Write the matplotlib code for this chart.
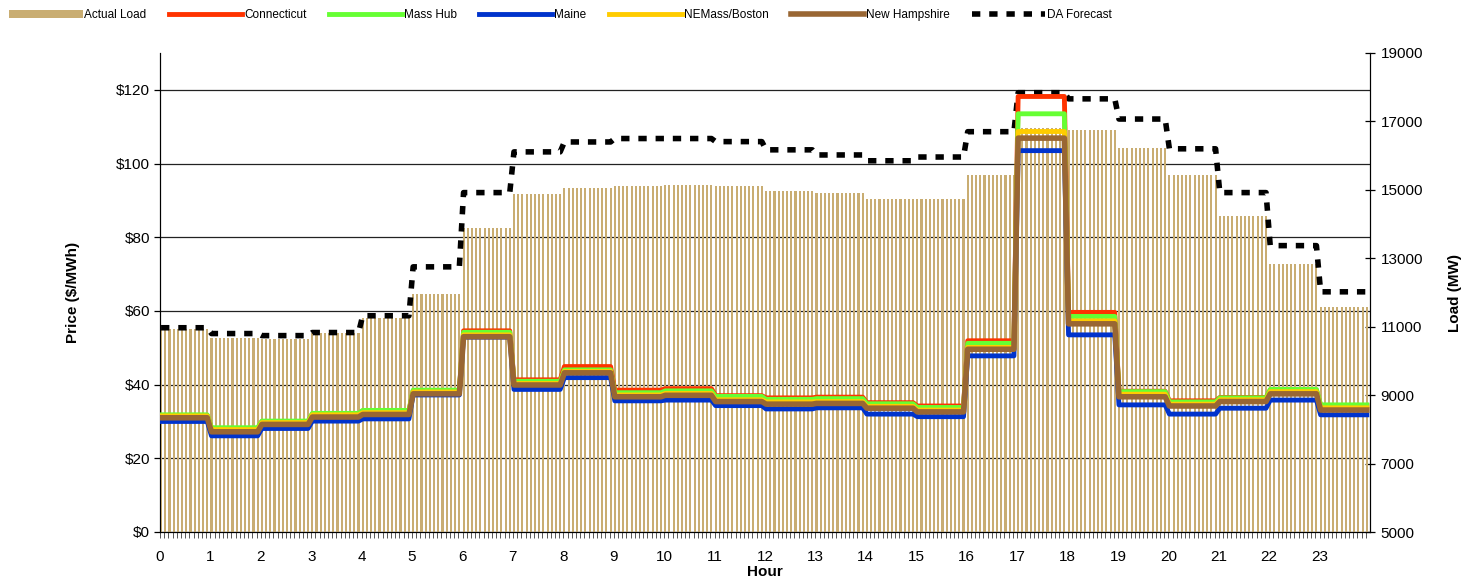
import matplotlib
matplotlib.use('Agg')
import matplotlib.pyplot as plt
import numpy as np

plt.rcParams['font.family'] = ['Liberation Sans', 'DejaVu Sans']

# hourly values (5-minute intervals repeat the hour)
hours = np.arange(24)
actual_load = [10930, 10660, 10640, 10810, 11250, 11960, 13880, 14880, 15050, 15110, 15140, 15110,
               14970, 14900, 14720, 14720, 15440, 16820, 16740, 16220, 15440, 14240, 12830, 11570]
da_forecast = [10970, 10800, 10740, 10830, 11320, 12750, 14920, 16110, 16400, 16500, 16500, 16410,
               16170, 16020, 15850, 15960, 16700, 17840, 17660, 17070, 16200, 14920, 13370, 12020]
connecticut = [31.6, 28.1, 30.0, 32.0, 32.9, 38.3, 54.6, 41.3, 44.9, 38.5, 38.9, 37.0,
               36.4, 36.6, 35.1, 34.2, 51.9, 118.2, 59.6, 38.2, 35.6, 36.5, 38.5, 34.3]
mass_hub = [31.8, 28.3, 30.1, 32.2, 33.0, 38.5, 54.2, 40.9, 44.0, 37.8, 38.3, 36.8,
            36.0, 36.2, 34.8, 33.8, 51.2, 113.5, 58.5, 38.1, 35.3, 36.4, 38.7, 34.5]
maine = [30.0, 26.1, 28.1, 30.1, 30.7, 37.2, 52.9, 38.7, 41.9, 35.6, 35.8, 34.3,
         33.4, 33.7, 32.0, 31.3, 47.8, 103.5, 53.5, 34.5, 32.0, 33.6, 35.8, 31.8]
nemass_boston = [31.5, 27.8, 29.7, 31.8, 32.4, 38.0, 53.5, 40.3, 43.6, 37.2, 37.6, 35.9,
                 35.3, 35.4, 34.1, 33.1, 50.1, 108.7, 57.3, 37.4, 34.7, 35.9, 38.1, 33.7]
new_hampshire = [31.0, 27.2, 29.2, 31.2, 31.9, 37.5, 53.0, 39.9, 43.2, 36.7, 37.1, 35.4,
                 34.7, 34.9, 33.6, 32.6, 49.6, 106.9, 56.5, 36.7, 34.2, 35.4, 37.5, 33.1]

steps = 12
x5 = np.arange(24 * steps) / steps
xc = x5 + 0.25 / steps

def per5(vals):
    return np.repeat(vals, steps)

fig = plt.figure(figsize=(14.73, 5.79), dpi=100)
ax = fig.add_axes([160 / 1473, 47 / 579, 1210 / 1473, 479 / 579])
ax2 = ax.twinx()
ax3 = ax.twinx()

# price axis with grid (bottom layer)
ax.set_ylim(0, 130)
ax.set_xlim(0, 24)
ax.set_yticks(np.arange(0, 121, 20))
ax.set_yticklabels(['${}'.format(v) for v in range(0, 121, 20)])
ax.yaxis.grid(True, color='#222222', linewidth=0.9)
ax.set_axisbelow(True)
ax.set_xticks(hours)
ax.set_xticks(x5, minor=True)
ax.tick_params(axis='x', which='both', length=4, width=0.7, color='#555555', labelsize=11, pad=9)
ax.tick_params(axis='y', length=4, width=0.9, labelsize=11, pad=3)
ax.spines['top'].set_visible(False)
ax.set_ylabel('Price ($/MWh)', fontsize=11, fontweight='bold', labelpad=26)
ax.set_xlabel('Hour', fontsize=11, fontweight='bold', labelpad=1)

# load axis: bars and forecast
bars = ax2.bar(x5, per5(actual_load), width=0.5 / steps, align='edge', color='#C9AD72',
               linewidth=0, label='Actual Load', zorder=2)
da, = ax2.plot(xc, per5(da_forecast), color='black', linewidth=4, dashes=(1.5, 1.6),
               label='DA Forecast', zorder=3)
ax2.set_ylim(5000, 19000)
ax2.set_yticks(np.arange(5000, 19001, 2000))
ax2.tick_params(axis='y', direction='inout', length=7, width=0.9, labelsize=11, pad=4)
ax2.spines['top'].set_visible(False)
ax2.set_ylabel('Load (MW)', fontsize=11, fontweight='bold', labelpad=18)

# price lines on top
ax3.set_ylim(0, 130)
ax3.axis('off')
l_ct, = ax3.plot(xc, per5(connecticut), color='#FF3300', linewidth=3.5, label='Connecticut')
l_mh, = ax3.plot(xc, per5(mass_hub), color='#66FF33', linewidth=3.5, label='Mass Hub')
l_me, = ax3.plot(xc, per5(maine), color='#0033CC', linewidth=3.5, label='Maine')
l_ne, = ax3.plot(xc, per5(nemass_boston), color='#FFCC00', linewidth=3.5, label='NEMass/Boston')
l_nh, = ax3.plot(xc, per5(new_hampshire), color='#996633', linewidth=4, label='New Hampshire')

handles = [bars, l_ct, l_mh, l_me, l_ne, l_nh, da]
labels = [h.get_label() for h in handles]
fig.legend(handles, labels, loc='upper left', bbox_to_anchor=(0.0, 1.0), ncol=7, frameon=False,
           fontsize=8.5, handlelength=6.2, handletextpad=0.15, columnspacing=1.9, borderaxespad=0.4)

plt.savefig('out.png', dpi=100)
